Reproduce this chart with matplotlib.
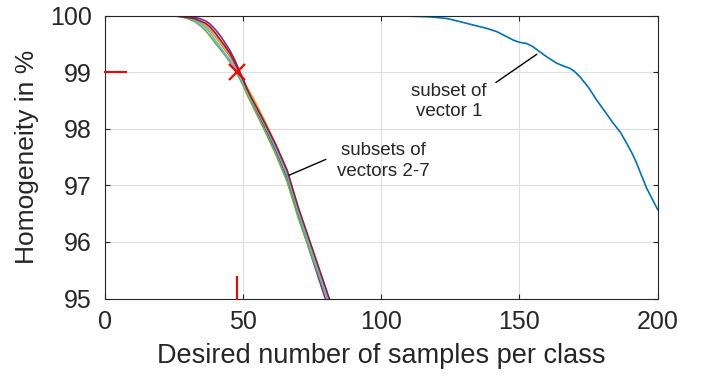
import matplotlib
matplotlib.use("Agg")
import matplotlib.pyplot as plt

plt.rcParams['font.family'] = ['Liberation Sans', 'DejaVu Sans']

# subset of vector 1
x1 = [0, 105, 112, 118, 124, 129, 134.6, 138, 141.8, 145, 147.8, 150, 152.6, 155, 157.4, 160, 163.5, 166,
      168.3, 170, 171.9, 175, 177.9, 181, 183.9, 186.5, 188.8, 190.5, 192.4, 194, 196, 198, 200]
y1 = [100, 100, 99.99, 99.98, 99.95, 99.89, 99.82, 99.78, 99.72, 99.64, 99.57, 99.53, 99.51, 99.45, 99.36, 99.27, 99.16, 99.11,
      99.07, 99.01, 98.92, 98.73, 98.51, 98.30, 98.10, 97.94, 97.74, 97.59, 97.39, 97.19, 96.95, 96.76, 96.57]

# subsets of vectors 2-7
xg = [0, 24, 27, 30, 32.5, 34.5, 36.5, 38, 40, 41.8, 43.6, 45.4, 47, 48.4, 50, 51.4, 53, 55, 58, 62, 66, 70, 75, 80, 84]
y2 = [100, 100, 99.99, 99.97, 99.94, 99.89, 99.83, 99.76, 99.64, 99.52, 99.40, 99.28, 99.14, 99.01, 98.85, 98.69, 98.53, 98.34, 98.06, 97.67, 97.22, 96.57, 95.84, 95.12, 94.52]
y3 = [100, 100, 99.99, 99.97, 99.95, 99.90, 99.84, 99.77, 99.65, 99.53, 99.42, 99.30, 99.16, 99.03, 98.89, 98.75, 98.61, 98.43, 98.14, 97.72, 97.26, 96.59, 95.86, 95.15, 94.55]
y4 = [100, 100, 99.99, 99.98, 99.97, 99.95, 99.91, 99.86, 99.76, 99.65, 99.52, 99.38, 99.23, 99.07, 98.89, 98.71, 98.53, 98.32, 98.02, 97.61, 97.14, 96.47, 95.72, 94.97, 94.38]
y5 = [100, 100, 99.99, 99.95, 99.90, 99.83, 99.74, 99.65, 99.52, 99.41, 99.30, 99.18, 99.05, 98.93, 98.78, 98.62, 98.46, 98.26, 97.96, 97.54, 97.07, 96.43, 95.74, 95.08, 94.50]
y6 = [100, 100, 99.99, 99.96, 99.93, 99.87, 99.79, 99.71, 99.57, 99.45, 99.33, 99.21, 99.08, 98.96, 98.83, 98.68, 98.53, 98.35, 98.06, 97.65, 97.19, 96.54, 95.81, 95.11, 94.52]
y7 = [100, 100, 99.99, 99.97, 99.95, 99.91, 99.87, 99.81, 99.70, 99.58, 99.46, 99.33, 99.18, 99.04, 98.88, 98.72, 98.56, 98.38, 98.10, 97.71, 97.27, 96.62, 95.90, 95.18, 94.60]

group_values = [y2, y3, y4, y5, y6, y7]
colors = ['#0072BD', '#D95319', '#EDB120', '#7E2F8E', '#77AC30', '#4DBEEE', '#A2142F']

marker_x, marker_y = 47.8, 99.0
xticks = [0, 50, 100, 150, 200]
yticks = [95, 96, 97, 98, 99, 100]

fig = plt.figure(figsize=(7.12, 3.79), dpi=100)
ax = fig.add_axes([0.1468, 0.2124, 0.777, 0.746])

ax.plot(x1, y1, color=colors[0], lw=1.2)
for yv, c in zip(group_values, colors[1:]):
    ax.plot(xg, yv, color=c, lw=1.2)

# red markers
ax.plot([marker_x], [marker_y], marker='x', color='#FF0000', ms=11, mew=1.6, clip_on=False, zorder=5)
ax.plot([0, 7.8], [marker_y, marker_y], color='#FF0000', lw=1.5, clip_on=False, zorder=5)
ax.plot([marker_x, marker_x], [95, 95.38], color='#FF0000', lw=1.5, clip_on=False, zorder=5)

ax.set_xlim(0, 200)
ax.set_ylim(95, 100)
ax.set_xticks(xticks)
ax.set_yticks(yticks)
ax.grid(True, color='#DFDFDF', lw=0.8)
ax.set_axisbelow(True)
ax.tick_params(direction='in', top=True, right=True, length=3.6, width=0.8, colors='#262626',
               labelsize=18, labelcolor='#262626')
ax.tick_params(axis='x', pad=8)
ax.tick_params(axis='y', pad=9)
for s in ax.spines.values():
    s.set_color('#262626')
    s.set_linewidth(0.8)

ax.set_xlabel('Desired number of samples per class', fontsize=19.5, color='#262626', labelpad=7)
ax.set_ylabel('Homogeneity in %', fontsize=19, color='#262626', labelpad=8)

line_kw = dict(arrowstyle='-', color='black', lw=1.0, shrinkA=0, shrinkB=0)
ax.annotate('', xy=(156.3, 99.32), xytext=(141.5, 98.82), arrowprops=line_kw)
ax.text(124.5, 98.49, 'subset of\nvector 1', fontsize=13.5, ha='center', va='center',
        color='#262626', linespacing=1.25)
ax.annotate('', xy=(66.7, 97.18), xytext=(80.0, 97.46), arrowprops=line_kw)
ax.text(100.9, 97.43, 'subsets of\nvectors 2-7', fontsize=13.5, ha='center', va='center',
        color='#262626', linespacing=1.25)

fig.savefig('out.png', dpi=100)
